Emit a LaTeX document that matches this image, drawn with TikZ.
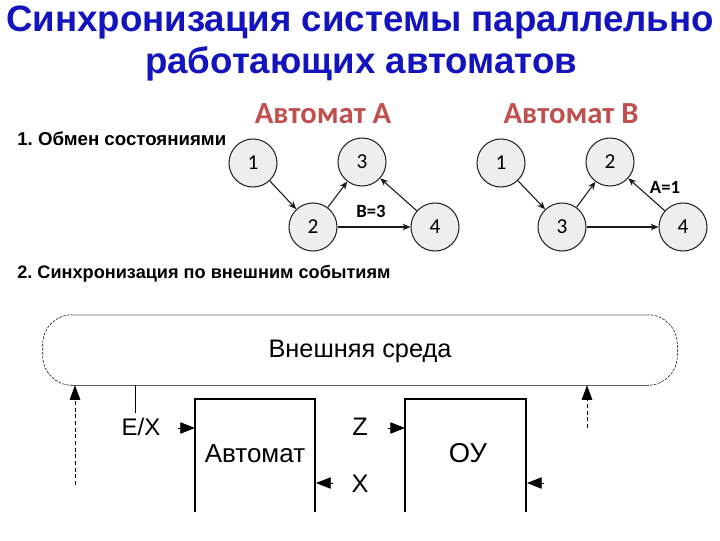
\documentclass[tikz,border=0pt]{standalone}
\usepackage{fontspec}
\setmainfont{Liberation Sans}
\newfontfamily\calib{Carlito}
\usetikzlibrary{arrows.meta}
\definecolor{titleblue}{RGB}{20,20,190}
\definecolor{autred}{RGB}{192,80,77}
\definecolor{circfill}{RGB}{238,238,238}
\definecolor{envtop}{RGB}{200,200,200}
\definecolor{envbot}{RGB}{90,90,90}
\frenchspacing
\begin{document}
\begin{tikzpicture}[x=0.75pt,y=-0.75pt,
  st/.style={circle,draw=black!85,fill=circfill,line width=0.8pt,minimum size=36pt,inner sep=0pt,font=\calib\fontsize{16}{18}\selectfont},
  tr/.style={-{Stealth[length=6pt,width=5pt]},line width=0.8pt,black!90},
  elbl/.style={font=\calib\bfseries\fontsize{14}{16}\selectfont,anchor=base,inner sep=0pt},
  ttl/.style={font=\bfseries\fontsize{27.5}{30}\selectfont,text=titleblue,anchor=base,inner sep=0pt},
  autttl/.style={font=\calib\bfseries\fontsize{23}{26}\selectfont,text=autred,anchor=base,inner sep=0pt},
  sect/.style={font=\bfseries\fontsize{14}{16}\selectfont,anchor=base west,inner sep=0pt},
  btxt/.style={font=\fontsize{19}{21}\selectfont,anchor=base,inner sep=0pt},
  blk/.style={line width=0.8pt},
  head/.style={-{Triangle[length=11pt,width=8.5pt]},line width=0.6pt},
  dhead/.style={dashed,dash pattern=on 3pt off 2pt,line width=0.6pt,-{Triangle[length=11pt,width=8pt]}}
]
\useasboundingbox (0,0) rectangle (720,540);

% Title
\node[ttl] (t1) at (360,31) {Синхронизация системы параллельно};
\node[ttl] (t2) at (361,73) {работающих автоматов};

% Section 1
\node[sect] (s1) at (17,145) {1. Обмен состояниями};
\node[autttl] (aA) at (323,123) {Автомат А};
\node[autttl] (aB) at (571,123) {Автомат В};

% Automaton A
\node[st] (a1) at (253,163) {1};
\node[st] (a3) at (362,162) {3};
\node[st] (a2) at (313,227) {2};
\node[st] (a4) at (435,227) {4};
\draw[tr] (a1) -- (a2);
\draw[tr] (a2) -- (a3);
\draw[tr] (a2) -- (a4);
\draw[tr] (a4) -- (a3);
\node[elbl] (lB) at (371,217) {B=3};

% Automaton B
\node[st] (b1) at (501,163) {1};
\node[st] (b2) at (610,162) {2};
\node[st] (b3) at (562,227) {3};
\node[st] (b4) at (683,227) {4};
\draw[tr] (b1) -- (b3);
\draw[tr] (b3) -- (b2);
\draw[tr] (b3) -- (b4);
\draw[tr] (b4) -- (b2);
\node[elbl] (lA) at (665,193) {A=1};

% Section 2
\node[sect,font=\bfseries\fontsize{13.6}{15}\selectfont] (s2) at (17,278) {2. Синхронизация по внешним событиям};

% Environment
\node[minimum width=475.5pt,minimum height=52.5pt,inner sep=0pt] (env) at (360,350) {};
\draw[dashed,dash pattern=on 2pt off 1pt,line width=0.4pt,rounded corners=22pt] (env.north west) rectangle (env.south east);
\draw[envtop,line width=1.5pt] ([xshift=22pt]env.north west) -- ([xshift=-22pt]env.north east);
\draw[envbot,line width=0.7pt] ([xshift=22pt]env.south west) -- ([xshift=-22pt]env.south east);
\node[btxt] (envt) at (360,357) {Внешняя среда};

% Blocks
\coordinate (abl) at (195,512);
\coordinate (abr) at (315,512);
\coordinate (atl) at (195,399);
\coordinate (atr) at (315,399);
\draw[blk] (abl) -- (atl) -- (atr) -- (abr);
\node[btxt,font=\fontsize{19.5}{21}\selectfont] (autt) at (255,462) {Автомат};

\coordinate (obl) at (405,512);
\coordinate (obr) at (526,512);
\coordinate (otl) at (405,399);
\coordinate (otr) at (526,399);
\draw[blk] (obl) -- (otl) -- (otr) -- (obr);
\node[btxt,font=\fontsize{20.5}{22}\selectfont] (out) at (468,462) {ОУ};

% Labels
\node[btxt,font=\fontsize{18}{20}\selectfont] (ex) at (141,435) {E/X};
\node[btxt] (zl) at (360,435) {Z};
\node[btxt] (xl) at (360,492) {X};

% vertical line from env
\coordinate (exl) at (135,413);
\draw[line width=0.6pt] (exl) -- (exl |- env.south);

% arrowheads
\coordinate (h1s) at (178,428);
\coordinate (h1e) at (195,428);
\draw[head] (h1s) -- (h1e);
\coordinate (h2s) at (388,428);
\coordinate (h2e) at (405,428);
\draw[head] (h2s) -- (h2e);
\coordinate (h3s) at (333,483);
\coordinate (h3e) at (316,483);
\draw[head] (h3s) -- (h3e);
\coordinate (h4s) at (544,483);
\coordinate (h4e) at (527,483);
\draw[head] (h4s) -- (h4e);

% dashed arrows
\coordinate (d1) at (75,485);
\draw[dhead] (d1) -- (d1 |- env.south);
\coordinate (d2) at (587,428);
\draw[dhead] (d2) -- (d2 |- env.south);
\end{tikzpicture}
\end{document}
